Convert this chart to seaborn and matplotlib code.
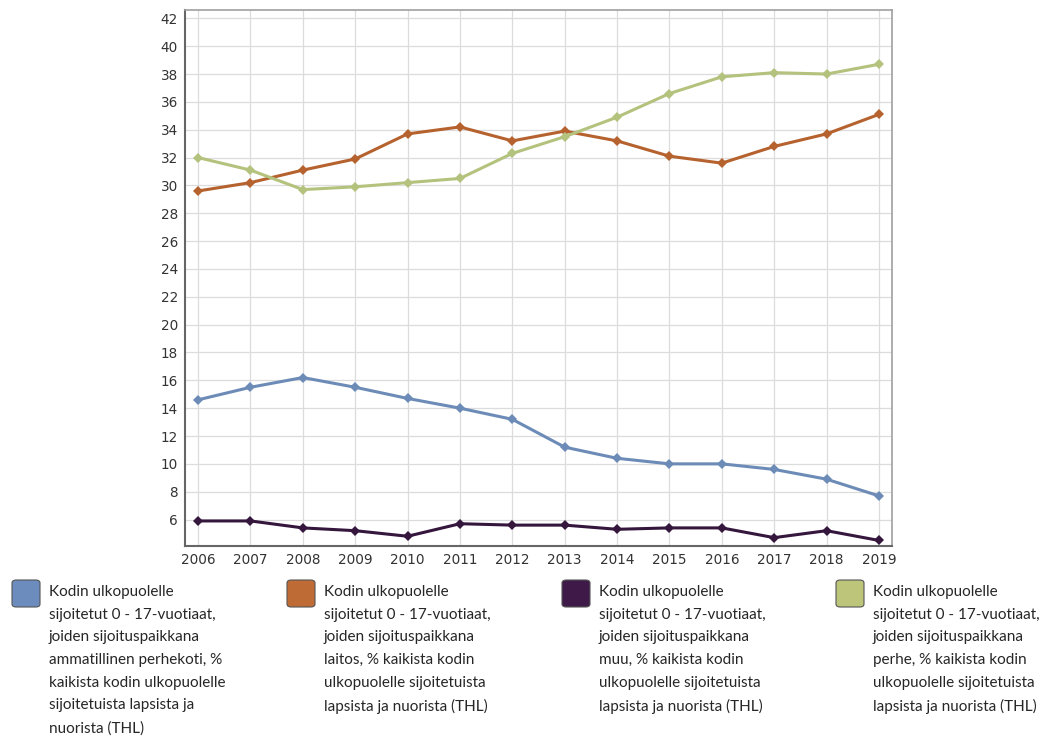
import matplotlib
matplotlib.use("Agg")
import matplotlib.pyplot as plt
from matplotlib.patches import FancyBboxPatch
import pandas as pd
import seaborn as sns

years = list(range(2006, 2020))

ammatillinen_perhekoti = [14.6, 15.5, 16.2, 15.5, 14.7, 14.0, 13.2, 11.2, 10.4, 10.0, 10.0, 9.6, 8.9, 7.7]
laitos = [29.6, 30.2, 31.1, 31.9, 33.7, 34.2, 33.2, 33.9, 33.2, 32.1, 31.6, 32.8, 33.7, 35.1]
muu = [5.9, 5.9, 5.4, 5.2, 4.8, 5.7, 5.6, 5.6, 5.3, 5.4, 5.4, 4.7, 5.2, 4.5]
perhe = [32.0, 31.1, 29.7, 29.9, 30.2, 30.5, 32.3, 33.5, 34.9, 36.6, 37.8, 38.1, 38.0, 38.7]

series_names = [
    "Kodin ulkopuolelle\nsijoitetut 0 - 17-vuotiaat,\njoiden sijoituspaikkana\nammatillinen perhekoti, %\nkaikista kodin ulkopuolelle\nsijoitetuista lapsista ja\nnuorista (THL)",
    "Kodin ulkopuolelle\nsijoitetut 0 - 17-vuotiaat,\njoiden sijoituspaikkana\nlaitos, % kaikista kodin\nulkopuolelle sijoitetuista\nlapsista ja nuorista (THL)",
    "Kodin ulkopuolelle\nsijoitetut 0 - 17-vuotiaat,\njoiden sijoituspaikkana\nmuu, % kaikista kodin\nulkopuolelle sijoitetuista\nlapsista ja nuorista (THL)",
    "Kodin ulkopuolelle\nsijoitetut 0 - 17-vuotiaat,\njoiden sijoituspaikkana\nperhe, % kaikista kodin\nulkopuolelle sijoitetuista\nlapsista ja nuorista (THL)",
]
series_values = [ammatillinen_perhekoti, laitos, muu, perhe]
line_colors = ["#6c8bb7", "#b5622e", "#35163d", "#b3c27c"]
swatch_colors = ["#6b8cbd", "#bf6b35", "#3f1a48", "#bcc57a"]
y_ticks = list(range(6, 43, 2))

rows = []
for name, vals in zip(series_names, series_values):
    for y, v in zip(years, vals):
        rows.append({"Vuosi": y, "Arvo": v, "Sarja": name})
df = pd.DataFrame(rows)

sns.set_theme(style="white")
plt.rcParams["font.family"] = ["DejaVu Sans"]

W, H = 1045, 740
fig = plt.figure(figsize=(W / 100, H / 100), dpi=100)
ax = fig.add_axes([185 / W, 1 - 546 / H, (892 - 185) / W, (546 - 10) / H])

sns.lineplot(
    data=df, x="Vuosi", y="Arvo", hue="Sarja", hue_order=series_names,
    palette=line_colors, style="Sarja", markers=["D"] * 4, dashes=False,
    markersize=5, markeredgewidth=0, linewidth=2.2, legend=False, ax=ax,
    zorder=3,
)

ax.set_xlim(2005.75, 2019.25)
ax.set_ylim(4.1, 42.6)
ax.set_xticks(years)
ax.set_xticklabels([str(y) for y in years])
ax.set_yticks(y_ticks)
ax.set_xlabel("")
ax.set_ylabel("")
ax.grid(True, color="#dcdcdc", linewidth=0.9)
ax.set_axisbelow(True)
ax.tick_params(axis="both", length=0, labelsize=9.8, colors="#333333", pad=5)
for side in ["top", "right"]:
    ax.spines[side].set_color("#a0a0a0")
    ax.spines[side].set_linewidth(1.2)
for side in ["left", "bottom"]:
    ax.spines[side].set_color("#666666")
    ax.spines[side].set_linewidth(1.5)

# legend drawn as four wrapped columns below the plot
col_x = [12, 287, 562, 836]
for cx, name, sc in zip(col_x, series_names, swatch_colors):
    sw = FancyBboxPatch(
        (cx / W, 1 - 607 / H), 28 / W, 27 / H,
        boxstyle="round,pad=0,rounding_size=0.004",
        transform=fig.transFigure, facecolor=sc,
        edgecolor="#555555", linewidth=0.8,
    )
    fig.patches.append(sw)
    fig.text((cx + 37) / W, 1 - 585 / H, name, ha="left", va="top",
             fontsize=11.0, family=["Lato", "DejaVu Sans"], color="#262626",
             linespacing=1.79)

fig.savefig("out.png", dpi=100, facecolor="white")
